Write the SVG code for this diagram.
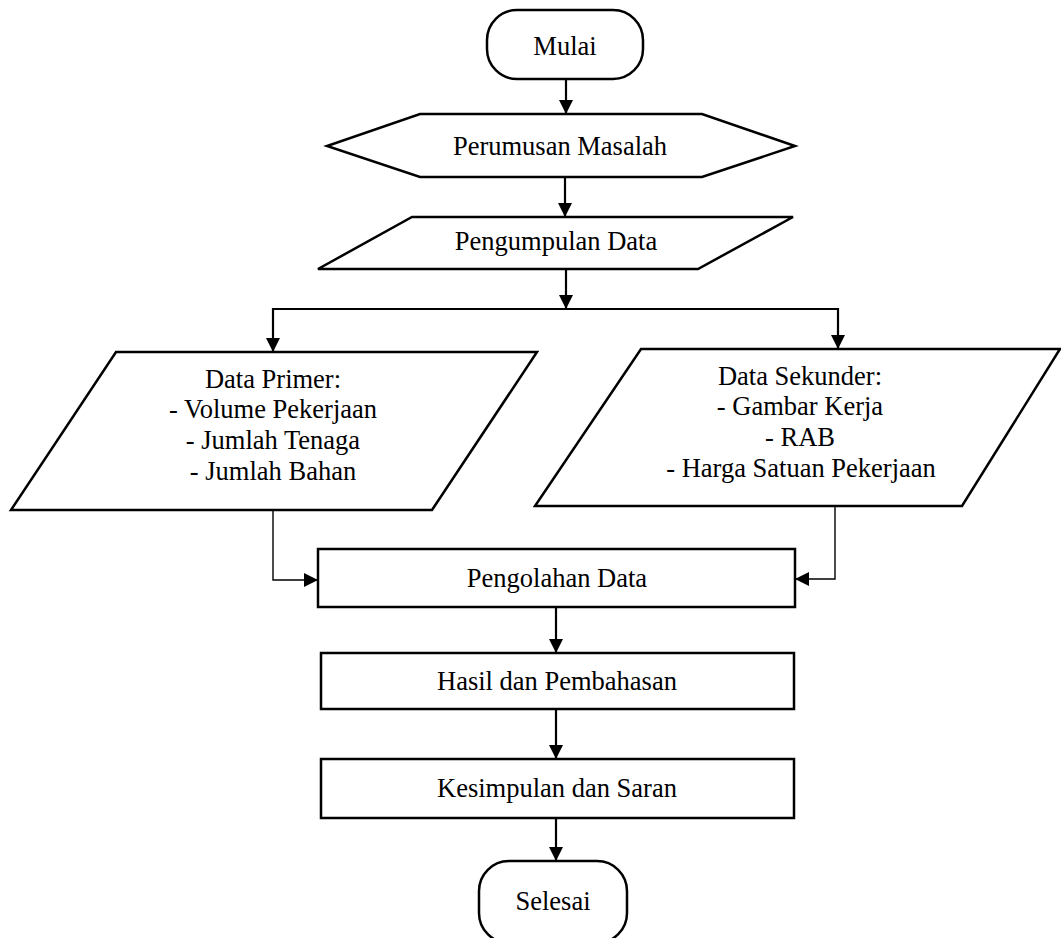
<svg xmlns="http://www.w3.org/2000/svg" width="1061" height="938" viewBox="0 0 1061 938">
  <style>
    .shape { fill: #ffffff; stroke: #000000; stroke-width: 2.5; stroke-linejoin: miter; }
    .lbl { font-family: "Liberation Serif", "Times New Roman", serif; font-size: 26.5px; fill: #000000; text-anchor: middle; }
    .conn { fill: none; stroke: #000000; stroke-width: 2.2; }
    .thin { fill: none; stroke: #000000; stroke-width: 1.4; }
  </style>
  <defs>
    <marker id="arrow" markerUnits="userSpaceOnUse" markerWidth="15" markerHeight="15" refX="14" refY="7" orient="auto">
      <path d="M0,0 L14,7 L0,14 z" fill="#000000"/>
    </marker>
  </defs>
  <rect width="1061" height="938" fill="#ffffff"/>

  <g id="connectors">
    <line class="conn" x1="566" y1="80" x2="566" y2="114" marker-end="url(#arrow)"/>
    <line class="conn" x1="565" y1="178" x2="565" y2="217" marker-end="url(#arrow)"/>
    <line class="conn" x1="566" y1="270" x2="566" y2="309" marker-end="url(#arrow)"/>
    <polyline class="conn" points="273,309 838,309 838,349" marker-end="url(#arrow)"/>
    <line class="conn" x1="273" y1="308" x2="273" y2="352" marker-end="url(#arrow)"/>
    <polyline class="thin" points="273,511 273,580 318,580" marker-end="url(#arrow)"/>
    <polyline class="thin" points="835,507 835,579 795,579" marker-end="url(#arrow)"/>
    <line class="conn" x1="556" y1="608" x2="556" y2="653" marker-end="url(#arrow)"/>
    <line class="conn" x1="556" y1="710" x2="556" y2="759" marker-end="url(#arrow)"/>
    <line class="conn" x1="556" y1="819" x2="556" y2="861" marker-end="url(#arrow)"/>
  </g>

  <g id="mulai">
    <rect class="shape" x="487" y="10" width="156" height="69" rx="30" ry="30"/>
    <text class="lbl" x="565" y="55">Mulai</text>
  </g>

  <g id="perumusan">
    <polygon class="shape" points="420,114 702,114 795,146 702,177 420,177 327,146"/>
    <text class="lbl" x="560" y="155">Perumusan Masalah</text>
  </g>

  <g id="pengumpulan">
    <polygon class="shape" points="412,217 793,217 698,269 318,269"/>
    <text class="lbl" x="556" y="250">Pengumpulan Data</text>
  </g>

  <g id="data-primer">
    <polygon class="shape" points="116,352 537,352 432,510 11,510"/>
    <text class="lbl" x="273" y="388">Data Primer:</text>
    <text class="lbl" x="273" y="418">- Volume Pekerjaan</text>
    <text class="lbl" x="273" y="449">- Jumlah Tenaga</text>
    <text class="lbl" x="273" y="480">- Jumlah Bahan</text>
  </g>

  <g id="data-sekunder">
    <polygon class="shape" points="641,349 1060,349 962,506 535,506"/>
    <text class="lbl" x="800" y="385">Data Sekunder:</text>
    <text class="lbl" x="800" y="415">- Gambar Kerja</text>
    <text class="lbl" x="800" y="446">- RAB</text>
    <text class="lbl" x="801" y="477">- Harga Satuan Pekerjaan</text>
  </g>

  <g id="pengolahan">
    <rect class="shape" x="318" y="549" width="477" height="58"/>
    <text class="lbl" x="557" y="587">Pengolahan Data</text>
  </g>

  <g id="hasil">
    <rect class="shape" x="321" y="653" width="473" height="56"/>
    <text class="lbl" x="557" y="690">Hasil dan Pembahasan</text>
  </g>

  <g id="kesimpulan">
    <rect class="shape" x="321" y="759" width="473" height="59"/>
    <text class="lbl" x="557" y="797">Kesimpulan dan Saran</text>
  </g>

  <g id="selesai">
    <rect class="shape" x="479" y="861" width="148" height="82" rx="30" ry="30"/>
    <text class="lbl" x="553" y="910">Selesai</text>
  </g>
</svg>
